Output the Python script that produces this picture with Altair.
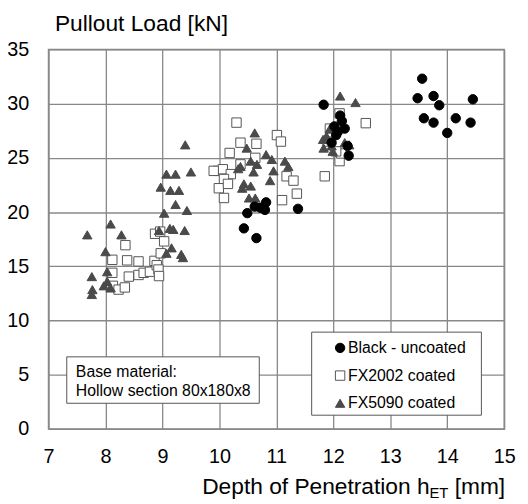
import altair as alt
import pandas as pd

# ---- data ----
series_names = ["Black - uncoated", "FX2002 coated", "FX5090 coated"]

black_x = [10.43, 10.49, 10.62, 10.65, 10.72, 10.80, 10.82, 11.38,
           11.83, 11.97, 12.02, 12.05, 12.08, 12.12, 12.15, 12.20, 12.25, 12.27,
           13.48, 13.56, 13.59, 13.76, 13.76, 13.86, 14.00, 14.15, 14.41, 14.45]
black_y = [18.5, 19.9, 20.5, 17.6, 20.4, 20.2, 20.9, 20.3,
           29.9, 26.4, 27.9, 27.1, 27.4, 28.9, 28.4, 27.7, 26.1, 25.2,
           30.5, 32.3, 28.65, 30.7, 28.25, 29.85, 27.3, 28.65, 28.25, 30.4]

fx2002_x = [8.12, 8.12, 8.13, 8.23, 8.34, 8.35, 8.38, 8.41, 8.58, 8.58, 8.67, 8.78,
            8.86, 8.90, 8.93, 8.94, 8.87, 8.96, 9.03, 8.97,
            10.30, 10.37, 10.65, 11.01, 11.08, 10.18, 9.97, 10.06, 10.20, 10.08,
            9.99, 10.08, 10.15, 10.37, 10.63, 11.18, 11.30, 11.36, 11.10, 11.85, 9.90,
            12.57, 12.11, 11.94, 12.11, 12.14, 12.05, 11.90]
fx2002_y = [15.6, 14.4, 13.2, 12.85, 13.05, 16.95, 15.55, 14.05, 15.45, 14.2, 14.4, 14.5,
            15.5, 15.1, 14.7, 14.1, 18.0, 18.2, 17.3, 16.2,
            28.25, 26.4, 26.3, 27.1, 26.5, 25.45, 23.8, 23.95, 23.5, 23.05,
            22.2, 21.3, 22.6, 24.4, 25.0, 23.3, 22.9, 21.7, 21.1, 23.3, 23.8,
            28.2, 29.1, 27.7, 24.7, 25.4, 25.6, 26.5]

fx5090_x = [7.68, 8.09, 8.28, 8.00, 8.03, 7.76, 7.77, 7.76, 7.97, 8.09, 8.03,
            9.40, 9.07, 9.23, 9.50, 8.97, 9.14, 9.29, 9.23, 9.43, 9.03, 8.94, 9.13,
            9.19, 9.39, 9.16, 9.33, 9.07, 9.36,
            10.62, 10.48, 10.82, 10.92, 11.15, 11.21, 10.37, 10.55, 10.66, 10.95,
            10.89, 10.43, 10.55, 10.40, 10.52, 10.63, 10.33, 10.60,
            12.12, 12.39, 11.94, 11.82, 11.88, 11.83, 11.97, 12.20, 12.28, 11.99]
fx5090_y = [17.9, 18.9, 17.9, 16.35, 14.5, 14.05, 12.85, 12.4, 13.2, 13.0, 13.6,
            26.2, 23.5, 23.5, 23.7, 22.3, 22.0, 22.0, 20.7, 20.15, 19.9, 18.3, 18.5,
            18.4, 18.3, 16.7, 16.1, 16.2, 15.8,
            27.3, 25.9, 25.3, 24.85, 24.7, 24.2, 24.2, 24.7, 24.4, 23.8,
            22.9, 22.6, 22.4, 22.2, 21.3, 21.3, 24.0, 23.7,
            30.7, 30.1, 27.7, 26.7, 27.0, 25.9, 26.1, 26.4, 26.2, 25.6]

x_ticks = [7, 8, 9, 10, 11, 12, 13, 14, 15]
y_ticks = [0, 5, 10, 15, 20, 25, 30, 35]

note_lines = ["Base material:", "Hollow section 80x180x8"]
note_x = [7.48, 7.48]
note_y = [4.83, 3.0]

box_x1 = [7.32, 11.62]
box_x2 = [10.70, 14.60]
box_y1 = [2.37, 1.27]
box_y2 = [6.65, 8.93]

# ---- build tables ----
rows = []
for name, xs, ys in [(series_names[1], fx2002_x, fx2002_y),
                     (series_names[2], fx5090_x, fx5090_y),
                     (series_names[0], black_x, black_y)]:
    for a, b in zip(xs, ys):
        rows.append({"series": name, "depth": a, "load": b})
df = pd.DataFrame(rows)

box_df = pd.DataFrame({"depth": box_x1, "depth2": box_x2, "load": box_y1, "load2": box_y2})
note_df = pd.DataFrame({"depth": note_x, "load": note_y, "txt": note_lines})

FONT = "Liberation Sans"

xscale = alt.Scale(domain=[7, 15], nice=False, zero=False)
yscale = alt.Scale(domain=[0, 35], nice=False)

xaxis = alt.Axis(values=x_ticks, title=None, labelFontSize=20, labelPadding=18,
                 ticks=False, tickSize=0, domain=False, labelColor="black",
                 labelFlush=False, labelOverlap=False,
                 gridColor="#888888", gridWidth=1.3, labelFont=FONT)
yaxis = alt.Axis(values=y_ticks, title="Pullout Load [kN]", labelFontSize=20,
                 labelPadding=20, ticks=False, tickSize=0, domain=False,
                 labelFlush=False, labelOverlap=False,
                 labelColor="black", gridColor="#888888", gridWidth=1.3,
                 labelFont=FONT, titleAngle=0, titleAlign="left",
                 titleBaseline="alphabetic", titleX=6, titleY=-19,
                 titleFontSize=23, titleFontWeight="normal", titleColor="black",
                 titleFont=FONT)

X = alt.X("depth:Q", scale=xscale, axis=xaxis)
Y = alt.Y("load:Q", scale=yscale, axis=yaxis)

points = alt.Chart(df).mark_point(size=90, strokeWidth=1, opacity=1).encode(
    x=X,
    y=Y,
    shape=alt.Shape("series:N", title=None,
                    scale=alt.Scale(domain=series_names,
                                    range=["circle", "square", "triangle-up"])),
    fill=alt.Fill("series:N", title=None,
                  scale=alt.Scale(domain=series_names,
                                  range=["#000000", "#ffffff", "#4a4a4a"])),
    stroke=alt.Stroke("series:N", title=None,
                      scale=alt.Scale(domain=series_names,
                                      range=["#000000", "#555555", "#4a4a4a"])),
)

boxes = alt.Chart(box_df).mark_rect(fill="white", stroke="#555555", strokeWidth=1).encode(
    x=X, x2="depth2:Q", y=Y, y2="load2:Q"
)

notes = alt.Chart(note_df).mark_text(align="left", baseline="alphabetic",
                                     fontSize=16, font=FONT, color="black").encode(
    x=X, y=Y, text="txt:N"
)

t_main = alt.Chart(pd.DataFrame({"t": ["Depth of Penetration h"]})).mark_text(
    align="right", baseline="alphabetic", fontSize=23, font=FONT, color="black"
).encode(x=alt.value(385.5), y=alt.value(450), text="t:N")
t_sub = alt.Chart(pd.DataFrame({"t": ["ET"]})).mark_text(
    align="right", baseline="alphabetic", fontSize=15, font=FONT, color="black"
).encode(x=alt.value(404.5), y=alt.value(454), text="t:N")
t_unit = alt.Chart(pd.DataFrame({"t": [" [mm]"]})).mark_text(
    align="right", baseline="alphabetic", fontSize=23, font=FONT, color="black"
).encode(x=alt.value(462), y=alt.value(450), text="t:N")

chart = alt.layer(boxes, points, notes, t_main, t_sub, t_unit).properties(
    width=461, height=384,
    autosize=alt.AutoSizeParams(type="none"),
    padding={"left": 41, "top": 39, "right": 16, "bottom": 72},
).configure_view(
    stroke="#888888", strokeWidth=1.5
).configure_legend(
    orient="none", legendX=287, legendY=294, padding=0,
    labelFontSize=16, labelFont=FONT, labelColor="black",
    symbolSize=90, rowPadding=12, labelOffset=0,
    symbolStrokeWidth=1
)

chart.save("out.html", embed_options={"renderer": "svg", "actions": False})
